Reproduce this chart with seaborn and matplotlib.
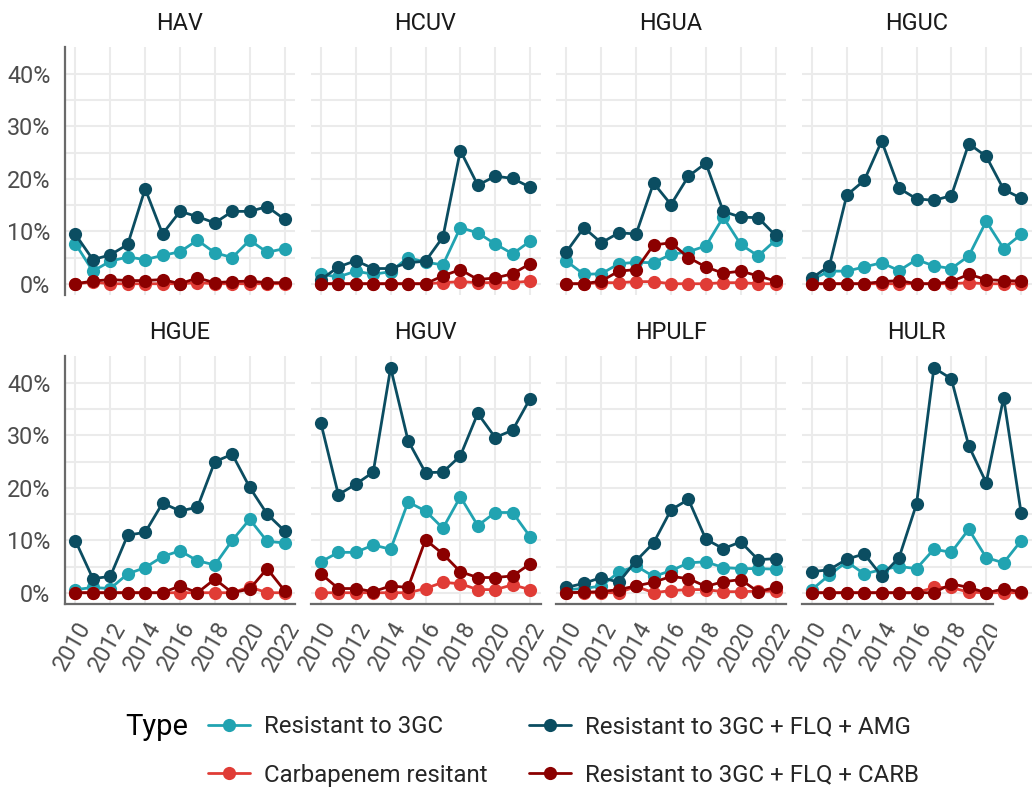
import matplotlib
matplotlib.use("Agg")
import matplotlib.pyplot as plt
import pandas as pd
import seaborn as sns
from matplotlib.lines import Line2D
from matplotlib.transforms import Bbox, TransformedBbox

years = list(range(2010, 2023))
sites = ["HAV", "HCUV", "HGUA", "HGUC", "HGUE", "HGUV", "HPULF", "HULR"]
types = [
    "Resistant to 3GC",
    "Carbapenem resitant",
    "Resistant to 3GC + FLQ + AMG",
    "Resistant to 3GC + FLQ + CARB",
]
colors = ["#21a3b1", "#e03c36", "#0b4d61", "#8b0000"]

# Percentages by year; one row per site, same order as `sites`
res_3gc = [
    [7.6, 2.4, 4.3, 5.1, 4.6, 5.4, 6.1, 8.3, 5.9, 5.0, 8.3, 6.0, 6.7],
    [1.8, 1.3, 2.4, 1.8, 2.3, 5.0, 4.1, 3.6, 10.7, 9.7, 7.6, 5.7, 8.1],
    [4.3, 1.8, 1.9, 3.8, 4.1, 4.0, 5.6, 6.1, 7.2, 12.7, 7.5, 5.3, 8.3],
    [0.8, 2.4, 2.4, 3.2, 4.0, 2.5, 4.6, 3.4, 2.9, 5.3, 11.9, 6.7, 9.4],
    [0.6, 1.0, 0.8, 3.6, 4.8, 6.9, 8.0, 6.1, 5.3, 10.0, 14.0, 9.8, 9.5],
    [5.9, 7.7, 7.7, 9.1, 8.3, 17.3, 15.6, 12.3, 18.3, 12.8, 15.3, 15.3, 10.7],
    [0.6, 0.8, 1.3, 3.9, 5.1, 3.1, 4.2, 5.7, 5.9, 4.8, 4.6, 4.6, 4.5],
    [0.6, 3.4, 5.9, 3.6, 4.4, 5.0, 4.6, 8.3, 7.7, 12.1, 6.7, 5.7, 9.9],
]
carbapenem = [
    [0.0, 0.3, 0.0, 0.0, 0.0, 0.0, 0.0, 0.2, 0.0, 0.0, 0.0, 0.0, 0.0],
    [0.0, 0.0, 0.0, 0.0, 0.0, 0.0, 0.0, 0.2, 0.4, 0.2, 0.2, 0.2, 0.5],
    [0.0, 0.0, 0.2, 0.2, 0.4, 0.4, 0.0, 0.0, 0.0, 0.2, 0.2, 0.0, 0.0],
    [0.0, 0.0, 0.0, 0.0, 0.0, 0.0, 0.0, 0.0, 0.0, 0.2, 0.0, 0.0, 0.0],
    [0.0, 0.0, 0.0, 0.0, 0.0, 0.0, 0.0, 0.0, 0.0, 0.0, 1.1, 0.0, 0.0],
    [0.0, 0.0, 0.0, 0.0, 0.0, 0.0, 0.8, 2.0, 1.7, 0.6, 0.6, 1.5, 0.6],
    [0.0, 0.0, 0.0, 0.0, 1.2, 0.0, 0.4, 0.6, 0.6, 0.2, 0.2, 0.3, 0.3],
    [0.0, 0.0, 0.0, 0.0, 0.0, 0.0, 0.0, 1.0, 1.0, 0.1, 0.0, 0.0, 0.0],
]
res_amg = [
    [9.4, 4.6, 5.5, 7.5, 18.1, 9.5, 13.8, 12.8, 11.6, 13.8, 13.8, 14.7, 12.3],
    [0.8, 3.2, 4.4, 2.9, 2.9, 4.0, 4.3, 8.9, 25.4, 18.8, 20.5, 20.1, 18.4],
    [6.1, 10.7, 7.8, 9.7, 9.5, 19.2, 15.1, 20.5, 23.0, 13.8, 12.7, 12.6, 9.2],
    [1.1, 3.4, 16.9, 19.7, 27.2, 18.2, 16.2, 15.9, 16.8, 26.7, 24.3, 18.0, 16.3],
    [9.9, 2.7, 3.1, 11.0, 11.5, 17.1, 15.6, 16.3, 25.0, 26.4, 20.1, 15.0, 11.8],
    [32.3, 18.7, 20.7, 23.0, 42.9, 29.0, 22.9, 23.0, 26.1, 34.2, 29.6, 31.0, 37.0],
    [1.0, 1.8, 2.9, 2.0, 6.1, 9.5, 15.8, 17.8, 10.2, 8.4, 9.7, 6.3, 6.5],
    [4.0, 4.4, 6.4, 7.4, 3.2, 6.7, 16.9, 42.9, 40.8, 28.0, 21.0, 37.2, 15.3],
]
res_carb = [
    [0.0, 0.5, 0.8, 0.6, 0.6, 0.8, 0.0, 1.1, 0.2, 0.4, 0.5, 0.2, 0.2],
    [0.0, 0.0, 0.0, 0.0, 0.0, 0.0, 0.0, 1.5, 2.7, 0.8, 1.1, 1.9, 3.8],
    [0.0, 0.0, 0.5, 2.4, 2.7, 7.4, 7.8, 5.0, 3.2, 2.0, 2.4, 1.5, 0.5],
    [0.0, 0.0, 0.0, 0.0, 0.4, 0.6, 0.0, 0.0, 0.4, 1.8, 0.8, 0.6, 0.5],
    [0.0, 0.0, 0.0, 0.0, 0.0, 0.0, 1.3, 0.0, 2.6, 0.0, 0.7, 4.6, 0.4],
    [3.6, 0.8, 0.8, 0.2, 1.3, 1.0, 10.1, 7.4, 4.0, 2.9, 2.9, 3.2, 5.5],
    [0.0, 0.1, 0.2, 0.6, 1.3, 2.0, 3.1, 2.7, 1.2, 2.1, 2.5, 0.2, 1.0],
    [0.0, 0.0, 0.0, 0.0, 0.0, 0.0, 0.0, 0.0, 1.7, 1.0, 0.0, 0.7, 0.2],
]

records = []
for t, table in zip(types, [res_3gc, carbapenem, res_amg, res_carb]):
    for site, row in zip(sites, table):
        for yr, v in zip(years, row):
            records.append({"Site": site, "Type": t, "Year": yr, "Value": v})
df = pd.DataFrame(records)

sns.set_theme(style="white")
plt.rcParams["font.family"] = ["Roboto", "DejaVu Sans"]

W, H = 1033, 788
fig = plt.figure(figsize=(W / 100, H / 100), dpi=100)

lefts = [65, 310.5, 556, 801.5]
tops = [47, 356]
pw, ph = 230, 248
axis_col = "#6a6a6a"
grid_col = "#ebebeb"
tick_col = "#4d4d4d"
fs = 16.8
msize = 9.5
lw = 2.0

for i, site in enumerate(sites):
    r, c = divmod(i, 4)
    ax = fig.add_axes([lefts[c] / W, 1 - (tops[r] + ph) / H, pw / W, ph / H])
    sub = df[df["Site"] == site]
    sns.lineplot(
        data=sub, x="Year", y="Value", hue="Type", hue_order=types,
        palette=colors, marker="o", markersize=msize, markeredgewidth=0,
        linewidth=lw, legend=False, ax=ax, zorder=3,
    )
    ax.set_xlim(2009.4, 2022.6)
    ax.set_ylim(-2.15, 45.15)
    ax.set_xticks(range(2010, 2023, 2))
    ax.set_yticks([0, 10, 20, 30, 40])
    ax.set_yticks([5, 15, 25, 35], minor=True)
    ax.grid(True, which="major", color=grid_col, linewidth=1.5)
    ax.grid(True, which="minor", axis="y", color=grid_col, linewidth=1.5)
    ax.set_axisbelow(True)
    ax.set_xlabel("")
    ax.set_ylabel("")
    for s in ax.spines.values():
        s.set_visible(False)
    ax.tick_params(which="both", length=0, labelsize=fs, labelcolor=tick_col)

    if c == 0:
        ax.spines["left"].set_visible(True)
        ax.spines["left"].set_color(axis_col)
        ax.spines["left"].set_linewidth(1.6)
        ax.set_yticklabels([f"{v}%" for v in [0, 10, 20, 30, 40]])
        ax.tick_params(axis="y", pad=10.5)
    else:
        ax.tick_params(axis="y", labelleft=False)

    if r == 1:
        ax.spines["bottom"].set_visible(True)
        ax.spines["bottom"].set_color(axis_col)
        ax.spines["bottom"].set_linewidth(1.6)
        ax.tick_params(axis="x", pad=10)
        if site == "HULR":
            # axis strip is cut just past 2020 on the right edge
            ax.set_xticks(range(2010, 2021, 2))
            ax.spines["bottom"].set_bounds(2009.4, 2020.4)
        for lab in ax.get_xticklabels():
            lab.set_rotation(60)
            lab.set_ha("right")
            lab.set_va("top")
            lab.set_rotation_mode("anchor")
            if site == "HULR":
                lab.set_clip_box(TransformedBbox(Bbox([[0, 0], [997 / W, 1]]), fig.transFigure))
                lab.set_clip_on(True)
    else:
        ax.tick_params(axis="x", labelbottom=False)

    fig.text((lefts[c] + pw / 2) / W, 1 - (tops[r] - 24) / H, site,
             ha="center", va="center", fontsize=fs, color="#1a1a1a")

handles = [Line2D([], [], color=col, marker="o", markersize=msize,
                  markeredgewidth=0, linewidth=lw) for col in colors]
fig.legend(handles, types, ncol=2, frameon=False, loc="center left",
           bbox_to_anchor=(208 / W, 1 - 751 / H), fontsize=17.3,
           handlelength=1.75, handletextpad=0.6, columnspacing=1.7,
           labelspacing=1.05, borderpad=0, borderaxespad=0)
fig.text(125 / W, 1 - 727 / H, "Type", ha="left", va="center", fontsize=21,
         color="#000000")

fig.savefig("out.png", dpi=100)
